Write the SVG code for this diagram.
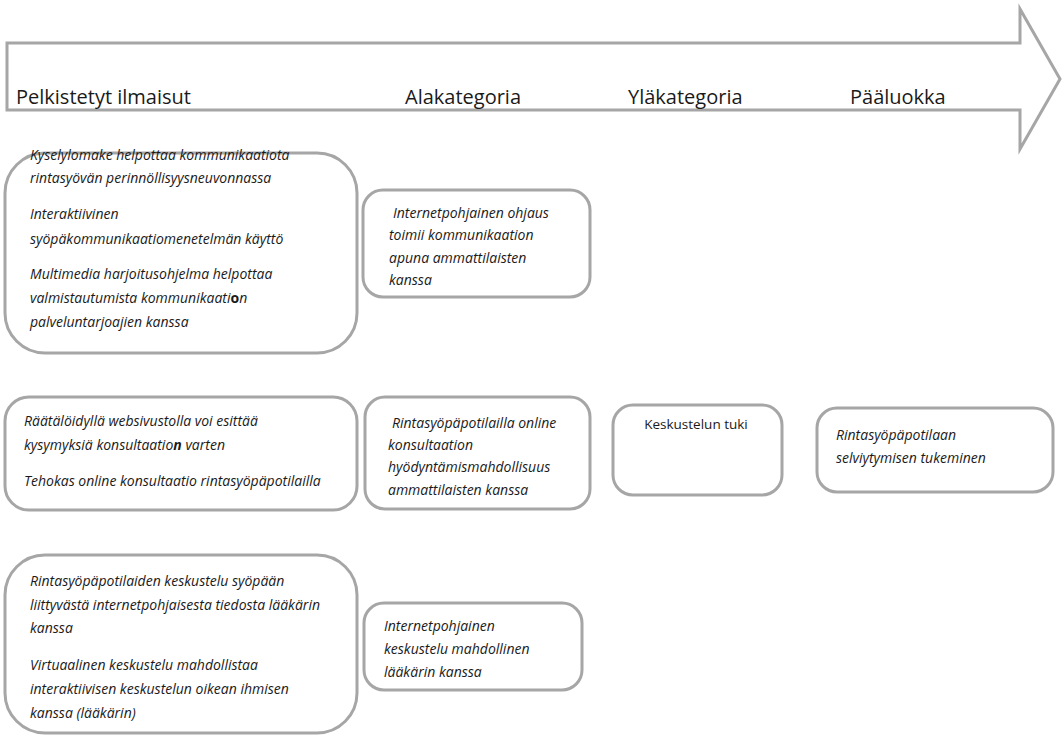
<svg xmlns="http://www.w3.org/2000/svg" width="1063" height="735" viewBox="0 0 1063 735">
<style>
.box{fill:#fff;stroke:#a6a6a6;stroke-width:3}
.t{font-family:"Open Sans","Liberation Sans",sans-serif;font-size:14px;font-style:italic;fill:#1a1a1a}
.n{font-family:"Open Sans","Liberation Sans",sans-serif;font-size:13.5px;fill:#1a1a1a}
.h{font-family:"Open Sans","Liberation Sans",sans-serif;font-size:20px;fill:#1a1a1a}
</style>
<rect width="1063" height="735" fill="#fff"/>
<g id="arrow">
<path d="M7,43 L1020,43 L1020,9 L1060,79 L1020,149 L1020,110 L7,110 Z" fill="#fff" stroke="#a6a6a6" stroke-width="3" stroke-linejoin="miter"/>
<text class="h" x="16" y="104">Pelkistetyt ilmaisut</text>
<text class="h" x="405" y="104">Alakategoria</text>
<text class="h" x="628" y="104">Yläkategoria</text>
<text class="h" x="850" y="104">Pääluokka</text>
</g>
<g id="connectors"></g>
<g id="n1">
<rect class="box" x="5" y="153" width="352" height="200" rx="40"/>
<text class="t" x="30" y="160">Kyselylomake helpottaa kommunikaatiota</text>
<text class="t" x="30" y="183">rintasyövän perinnöllisyysneuvonnassa</text>
<text class="t" x="30" y="219">Interaktiivinen</text>
<text class="t" x="30" y="244">syöpäkommunikaatiomenetelmän käyttö</text>
<text class="t" x="30" y="279">Multimedia harjoitusohjelma helpottaa</text>
<text class="t" x="30" y="303">valmistautumista kommunikaati<tspan font-weight="bold" font-style="normal">o</tspan>n</text>
<text class="t" x="30" y="327">palveluntarjoajien kanssa</text>
</g>
<g id="n2">
<rect class="box" x="363" y="190" width="227" height="107" rx="20"/>
<text class="t" x="393" y="218">Internetpohjainen ohjaus</text>
<text class="t" x="389" y="240">toimii kommunikaation</text>
<text class="t" x="389" y="263">apuna ammattilaisten</text>
<text class="t" x="389" y="285">kanssa</text>
</g>
<g id="n3">
<rect class="box" x="5" y="397" width="352" height="113" rx="24"/>
<text class="t" x="24" y="426">Räätälöidyllä websivustolla voi esittää</text>
<text class="t" x="24" y="450">kysymyksiä konsultaatio<tspan font-weight="bold">n</tspan> varten</text>
<text class="t" x="24" y="486">Tehokas online konsultaatio rintasyöpäpotilailla</text>
</g>
<g id="n4">
<rect class="box" x="365" y="397" width="225" height="112" rx="20"/>
<text class="t" x="392" y="428">Rintasyöpäpotilailla online</text>
<text class="t" x="388" y="450">konsultaation</text>
<text class="t" x="388" y="472">hyödyntämismahdollisuus</text>
<text class="t" x="388" y="495">ammattilaisten kanssa</text>
</g>
<g id="n5">
<rect class="box" x="613" y="405" width="169" height="90" rx="20"/>
<text class="n" x="696" y="429" text-anchor="middle">Keskustelun tuki</text>
</g>
<g id="n6">
<rect class="box" x="817" y="408" width="236" height="84" rx="20"/>
<text class="t" x="836" y="440">Rintasyöpäpotilaan</text>
<text class="t" x="836" y="463">selviytymisen tukeminen</text>
</g>
<g id="n7">
<rect class="box" x="5" y="555" width="352" height="178" rx="40"/>
<text class="t" x="30" y="586">Rintasyöpäpotilaiden keskustelu syöpään</text>
<text class="t" x="30" y="610">liittyvästä internetpohjaisesta tiedosta lääkärin</text>
<text class="t" x="30" y="633">kanssa</text>
<text class="t" x="30" y="670">Virtuaalinen keskustelu mahdollistaa</text>
<text class="t" x="30" y="694">interaktiivisen keskustelun oikean ihmisen</text>
<text class="t" x="30" y="718">kanssa (lääkärin)</text>
</g>
<g id="n8">
<rect class="box" x="364" y="603" width="218" height="87" rx="20"/>
<text class="t" x="384" y="631">Internetpohjainen</text>
<text class="t" x="384" y="654">keskustelu mahdollinen</text>
<text class="t" x="384" y="677">lääkärin kanssa</text>
</g>
</svg>
